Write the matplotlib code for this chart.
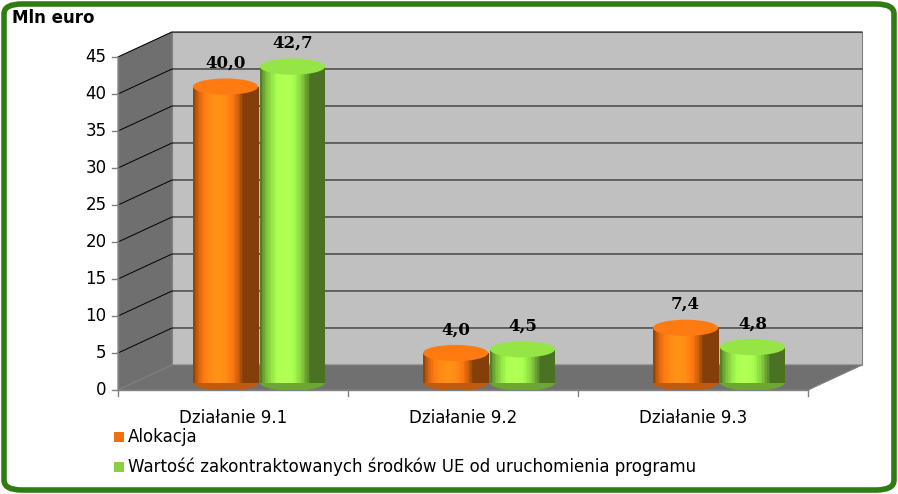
import numpy as np
import matplotlib.pyplot as plt
from matplotlib.patches import Polygon, Ellipse, Rectangle, FancyBboxPatch
import matplotlib.colors as mc

categories = ['Działanie 9.1', 'Działanie 9.2', 'Działanie 9.3']
alokacja = [40.0, 4.0, 7.4]
wartosc = [42.7, 4.5, 4.8]
series_names = ['Alokacja', 'Wartość zakontraktowanych środków UE od uruchomienia programu']
labels_a = ['40,0', '4,0', '7,4']
labels_w = ['42,7', '4,5', '4,8']
yticks = list(range(0, 50, 5))

W, H = 898, 494
fig = plt.figure(figsize=(W / 100, H / 100), dpi=100)
fig.patch.set_facecolor('white')
fig.patches.append(FancyBboxPatch((4 / W, 4 / H), 1 - 8 / W, 1 - 8 / H, boxstyle='round,pad=0,rounding_size=0.02',
                                  transform=fig.transFigure, fill=False, ec='#2f7d12', lw=4))

ax = fig.add_axes([118 / W, 1 - 390 / H, 690 / W, 333 / H])
ax.set_xlim(0, 3)
ax.set_ylim(0, 45)
ax.axis('off')

dx, dy = 0.235, 3.38
# back wall, side wall, floor
ax.add_patch(Polygon([(dx, dy), (3 + dx, dy), (3 + dx, 45 + dy), (dx, 45 + dy)], fc='#c0c0c0', ec='#808080', lw=0.8, clip_on=False))
ax.add_patch(Polygon([(0, 0), (dx, dy), (dx, 45 + dy), (0, 45)], fc='#6f6f6f', ec='#808080', lw=0.8, clip_on=False))
ax.add_patch(Polygon([(0, 0), (3, 0), (3 + dx, dy), (dx, dy)], fc='#707070', ec='#808080', lw=0.8, clip_on=False))
for t in yticks[1:]:
    ax.plot([0, dx, 3 + dx], [t, t + dy, t + dy], color='black', lw=0.7, clip_on=False, zorder=1)
# axis
ax.plot([0, 0], [0, 45], color='#808080', lw=1, clip_on=False)
ax.plot([0, 3], [0, 0], color='#808080', lw=1, clip_on=False)
for t in yticks:
    ax.plot([-0.025, 0], [t, t], color='#808080', lw=1, clip_on=False)
    ax.text(-0.05, t, str(t), ha='right', va='center', fontsize=12, fontfamily='DejaVu Sans')
for i in range(4):
    ax.plot([i, i], [0, -0.8], color='#808080', lw=1, clip_on=False)
for i, c in enumerate(categories):
    ax.text(i + 0.5, -2.5, c, ha='center', va='top', fontsize=12)


def cylinder(x0, w, val, base_col, label):
    b = 1.0
    eh = 2.2
    n = 40
    base = np.array(mc.to_rgb(base_col))
    xs = np.linspace(x0, x0 + w, n + 1)
    for k in range(n):
        f = (k + 0.5) / n
        shade = 0.55 + 0.75 * np.sin(np.pi * min(1, f * 1.3)) ** 0.8
        col = np.clip(base * shade, 0, 1)
        ax.add_patch(Rectangle((xs[k], b), xs[k + 1] - xs[k] + 0.002, val, fc=col, ec='none', zorder=3))
    ax.add_patch(Ellipse((x0 + w / 2, b), w, eh, fc=np.clip(base * 0.8, 0, 1), ec='none', zorder=2.9))
    ax.add_patch(Ellipse((x0 + w / 2, b + val), w, eh, fc=np.clip(base * 1.1, 0, 1), ec='none', zorder=4))
    ax.text(x0 + w / 2, b + val + 2.0, label, ha='center', va='bottom', fontsize=12, fontweight='bold', fontfamily='DejaVu Serif', zorder=5)


for i in range(3):
    cylinder(i + 0.326, 0.283, alokacja[i], '#f07010', labels_a[i])
    cylinder(i + 0.617, 0.283, wartosc[i], '#88d040', labels_w[i])

fig.text(12 / W, 1 - 18 / H, 'Mln euro', fontsize=12, fontweight='bold', va='center')
for j, (name, col) in enumerate(zip(series_names, ['#f07010', '#88d040'])):
    y = 1 - (437 + 30 * j) / H
    fig.patches.append(Rectangle((114 / W, y - 5 / H), 10 / W, 10 / H, transform=fig.transFigure, fc=col, ec='none'))
    fig.text(128 / W, y, name, fontsize=12, va='center')

fig.savefig('out.png', dpi=100)
